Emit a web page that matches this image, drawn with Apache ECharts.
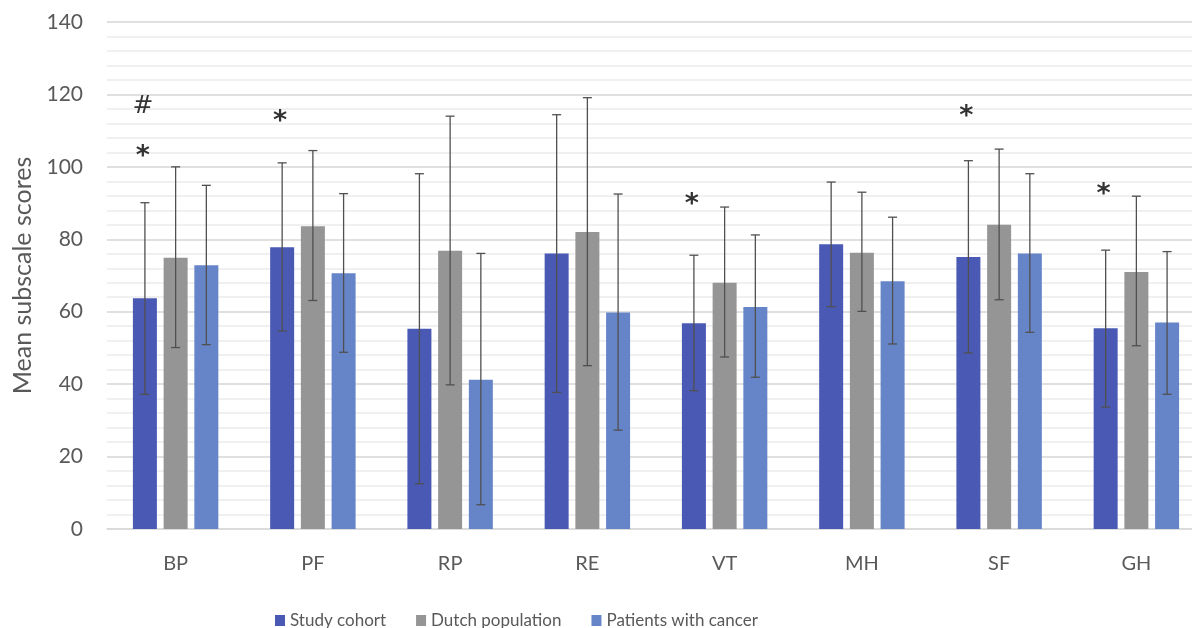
<!DOCTYPE html>
<html><head><meta charset="utf-8">
<script src="https://cdn.jsdelivr.net/npm/echarts@6/dist/echarts.min.js"></script>
<style>html,body{margin:0;padding:0;background:#fff}#c{width:1192px;height:628px}</style>
</head><body><div id="c"></div>
<script>
const categories = ['BP','PF','RP','RE','VT','MH','SF','GH'];
const seriesNames = ['Study cohort','Dutch population','Patients with cancer'];
const study      = [63.7, 77.8, 55.3, 76.1, 56.8, 78.6, 75.1, 55.4];
const studyLow   = [37.2, 54.7, 12.5, 37.7, 38.2, 61.4, 48.6, 33.7];
const studyHigh  = [90.1, 101.1, 98.1, 114.4, 75.6, 95.8, 101.7, 77.0];
const dutch      = [74.9, 83.6, 76.8, 82.0, 68.0, 76.3, 84.0, 71.0];
const dutchLow   = [50.1, 63.1, 39.8, 45.1, 47.5, 60.1, 63.3, 50.6];
const dutchHigh  = [100.0, 104.5, 114.0, 119.1, 88.9, 93.0, 104.9, 91.9];
const cancer     = [72.8, 70.6, 41.2, 59.8, 61.3, 68.4, 76.1, 57.0];
const cancerLow  = [50.9, 48.8, 6.7, 27.3, 41.9, 51.1, 54.3, 37.2];
const cancerHigh = [94.9, 92.6, 76.1, 92.5, 81.2, 86.1, 98.1, 76.6];
// significance markers above the study cohort bars: [category, value, symbol]
const markerCats   = ['BP','BP','PF','VT','SF','GH'];
const markerValues = [116.7, 104.6, 114.2, 91.3, 115.8, 94.3];
const markerTexts  = ['#','*','*','*','*','*'];
const yTicks = [0, 20, 40, 60, 80, 100, 120, 140];

const colors = ['#4a5ab4', '#959595', '#6685c8'];
const BAR_W = 24, GAP = 0.28;
const PITCH = BAR_W * (1 + GAP);
const FONT = 'Lato, "Open Sans", sans-serif';

const means = [study, dutch, cancer];
const lows = [studyLow, dutchLow, cancerLow];
const highs = [studyHigh, dutchHigh, cancerHigh];

const errData = [];
for (let s = 0; s < 3; s++) {
  for (let i = 0; i < categories.length; i++) {
    errData.push([i, lows[s][i], highs[s][i], s]);
  }
}
const markData = markerCats.map((c, k) => [categories.indexOf(c), markerValues[k], k]);

const chart = echarts.init(document.getElementById('c'), null, {renderer: 'canvas'});
chart.setOption({
  animation: false,
  textStyle: {fontFamily: FONT},
  grid: {left: 107, right: -13, top: 22, bottom: 99, outerBoundsMode: 'none', containLabel: false},
  legend: {
    data: seriesNames,
    left: 270, top: 607,
    itemWidth: 10, itemHeight: 11, itemGap: 30,
    icon: 'rect',
    textStyle: {fontSize: 17, color: '#595959', fontFamily: FONT}
  },
  xAxis: {
    type: 'category',
    data: categories,
    axisTick: {show: false},
    axisLine: {lineStyle: {color: '#d9d9d9', width: 1.5}},
    axisLabel: {fontSize: 20, color: '#595959', margin: 25, fontFamily: FONT}
  },
  yAxis: {
    type: 'value',
    min: yTicks[0], max: yTicks[yTicks.length - 1], interval: 20,
    name: 'Mean subscale scores',
    nameLocation: 'middle',
    nameGap: 72,
    nameTextStyle: {fontSize: 25, color: '#595959', fontFamily: FONT},
    axisLine: {show: false},
    axisTick: {show: false},
    axisLabel: {fontSize: 21, color: '#595959', margin: 24, fontFamily: FONT},
    splitLine: {lineStyle: {color: '#d6d6d6', width: 1.5}},
    minorTick: {show: false, splitNumber: 5},
    minorSplitLine: {show: true, lineStyle: {color: '#ececec', width: 1.5}}
  },
  series: [
    ...seriesNames.map((n, s) => ({
      name: n, type: 'bar', data: means[s],
      barWidth: BAR_W, barGap: (GAP * 100) + '%',
      itemStyle: {color: colors[s]}, z: 2
    })),
    {
      type: 'custom', name: 'err', data: errData, z: 5,
      encode: {x: 0, y: [1, 2]},
      renderItem: function (params, api) {
        const ci = api.value(0), s = api.value(3);
        const lo = api.coord([ci, api.value(1)]);
        const hi = api.coord([ci, api.value(2)]);
        const x = lo[0] + (s - 1) * PITCH;
        const cap = 4.5;
        const st = {stroke: '#505050', lineWidth: 1.3};
        return {type: 'group', children: [
          {type: 'line', shape: {x1: x, y1: lo[1], x2: x, y2: hi[1]}, style: st},
          {type: 'line', shape: {x1: x - cap, y1: lo[1], x2: x + cap, y2: lo[1]}, style: st},
          {type: 'line', shape: {x1: x - cap, y1: hi[1], x2: x + cap, y2: hi[1]}, style: st}
        ]};
      }
    },
    {
      type: 'custom', name: 'marks', data: markData, z: 6,
      encode: {x: 0, y: 1},
      renderItem: function (params, api) {
        const p = api.coord([api.value(0), api.value(1)]);
        const t = markerTexts[api.value(2)];
        const star = t === '*';
        return {type: 'text', x: p[0] - PITCH - 2, y: p[1] + (star ? 7 : 0),
          style: {text: t, fill: '#333',
            font: star ? 'bold 27px "DejaVu Sans", sans-serif' : '25px "DejaVu Sans", sans-serif',
            align: 'center', verticalAlign: 'middle'}};
      }
    }
  ]
});
</script></body></html>
